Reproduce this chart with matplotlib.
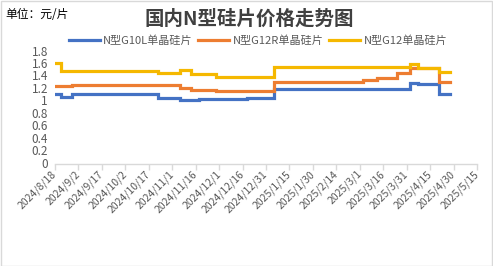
import matplotlib
matplotlib.use("Agg")
import matplotlib.pyplot as plt
import matplotlib.dates as mdates
from matplotlib.patches import Rectangle
import pandas as pd

plt.rcParams['font.family'] = ['Noto Sans CJK SC', 'DejaVu Sans']

title = "国内N型硅片价格走势图"
unit_label = "单位：元/片"
series_names = ["N型G10L单晶硅片", "N型G12R单晶硅片", "N型G12单晶硅片"]

# change-point dates (step series); last date is the end of the data
g10l_dates = ["2024-08-18", "2024-08-22", "2024-08-29", "2024-10-23", "2024-11-06",
              "2024-11-18", "2024-12-19", "2025-01-05", "2025-02-23", "2025-04-02",
              "2025-04-07", "2025-04-21", "2025-04-28"]
g10l_values = [1.13, 1.08, 1.12, 1.06, 1.03, 1.05, 1.06, 1.20, 1.21, 1.30, 1.28, 1.12, 1.12]

g12r_dates = ["2024-08-18", "2024-08-29", "2024-11-06", "2024-11-13", "2024-11-29",
              "2025-01-05", "2025-03-03", "2025-03-12", "2025-03-25", "2025-04-02",
              "2025-04-14", "2025-04-21", "2025-04-28"]
g12r_values = [1.25, 1.27, 1.22, 1.19, 1.17, 1.32, 1.35, 1.39, 1.46, 1.55, 1.54, 1.32, 1.32]

g12_dates = ["2024-08-18", "2024-08-22", "2024-10-23", "2024-11-06", "2024-11-13",
             "2024-11-29", "2025-01-05", "2025-04-02", "2025-04-07", "2025-04-21",
             "2025-04-28"]
g12_values = [1.62, 1.50, 1.46, 1.51, 1.44, 1.40, 1.56, 1.61, 1.55, 1.48, 1.48]

tick_labels = ["2024/8/18", "2024/9/2", "2024/9/17", "2024/10/2", "2024/10/17",
               "2024/11/1", "2024/11/16", "2024/12/1", "2024/12/16", "2024/12/31",
               "2025/1/15", "2025/1/30", "2025/2/14", "2025/3/1", "2025/3/16",
               "2025/3/31", "2025/4/15", "2025/4/30", "2025/5/15"]
y_ticks = [0, 0.2, 0.4, 0.6, 0.8, 1, 1.2, 1.4, 1.6, 1.8]
y_tick_labels = ["0", "0.2", "0.4", "0.6", "0.8", "1", "1.2", "1.4", "1.6", "1.8"]

colors = ["#4472C4", "#ED7D31", "#F5B800"]
text_gray = "#595959"
axis_gray = "#D9D9D9"

W, H = 493, 266
fig = plt.figure(figsize=(W / 100, H / 100), dpi=100)
fig.patch.set_facecolor("white")

ax = fig.add_axes([55 / W, 1 - 164 / H, (477 - 55) / W, (164 - 52) / H])

series = [(g10l_dates, g10l_values), (g12r_dates, g12r_values), (g12_dates, g12_values)]
for (d, v), c, name in zip(series, colors, series_names):
    ax.plot(pd.to_datetime(d), v, drawstyle="steps-post", color=c, lw=2.3,
            label=name, solid_joinstyle="miter")

tick_dates = pd.to_datetime(tick_labels, format="%Y/%m/%d")
ax.set_xlim(tick_dates[0], tick_dates[-1])
ax.set_xticks(tick_dates)
ax.set_xticklabels(tick_labels, rotation=45, ha="right", va="center",
                   rotation_mode="anchor", fontsize=7.5, color=text_gray)
ax.set_ylim(0, 1.8)
ax.set_yticks(y_ticks)
ax.set_yticklabels(y_tick_labels, fontsize=8.5, color=text_gray)

for s in ["top", "right", "left"]:
    ax.spines[s].set_visible(False)
ax.spines["bottom"].set_color(axis_gray)
ax.spines["bottom"].set_linewidth(1)
ax.tick_params(axis="x", direction="out", length=4, width=1, color=axis_gray, pad=2)
ax.tick_params(axis="y", length=0, pad=5)
for lbl in ax.get_yticklabels():
    lbl.set_verticalalignment("center")

leg = fig.legend(loc="center", bbox_to_anchor=(258 / W, 1 - 41 / H), ncol=3,
                 frameon=False, fontsize=8, handlelength=2.8, handletextpad=0.3,
                 columnspacing=0.5, borderaxespad=0)
for t in leg.get_texts():
    t.set_color(text_gray)

fig.text(249 / W, 1 - 19 / H, title, ha="center", va="center", fontsize=14,
         fontweight="bold", color="#404040")
fig.text(5 / W, 1 - 15 / H, unit_label, ha="left", va="center", fontsize=8.5,
         color="black")

fig.add_artist(Rectangle((0.5 / W, 0.5 / H), 1 - 1.5 / W, 1 - 1.5 / H,
                         transform=fig.transFigure, fill=False,
                         edgecolor=axis_gray, lw=1))

fig.savefig("out.png", dpi=100)
